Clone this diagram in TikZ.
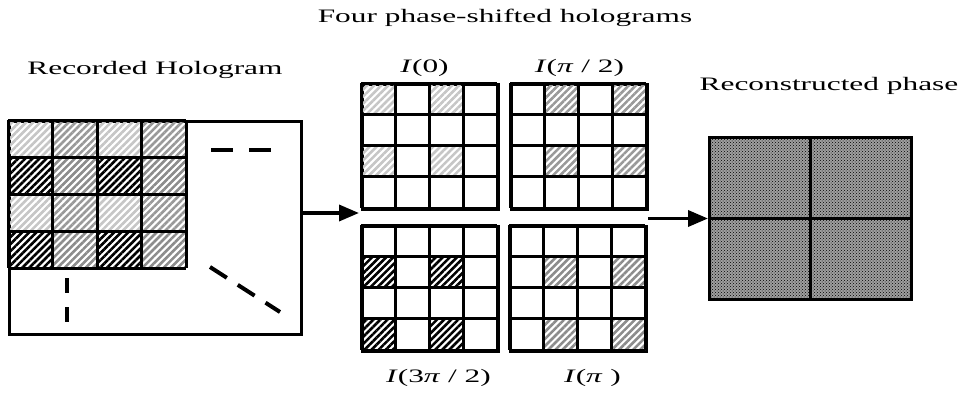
\documentclass[tikz,border=0pt]{standalone}
\usepackage{fontspec}
\setmainfont{Liberation Serif}[FakeStretch=1.65]
\usetikzlibrary{arrows.meta, positioning, patterns, patterns.meta}

\tikzset{
  holo/.style={draw, line width=3pt, inner sep=0pt, anchor=north west},
  cellline/.style={line width=3pt},
  hatch/.style={pattern={Lines[angle=45, distance=5pt, line width=2.6pt]},
                pattern color=#1},
  dashmark/.style={line width=4pt, dash pattern=#1},
  bigarrow/.style={line width=3.5pt, -{Triangle[length=20pt, width=16pt]}},
  lbl/.style={font=\fontsize{19}{21}\selectfont, inner sep=0pt},
}

% hatched cells of one phase: x0, y0, cell w, cell h, row offset, col offset, colour
\newcommand{\phasecells}[7]{%
  \foreach \r in {0,2} \foreach \c in {0,2}
    \fill[hatch=#7] ({#1+(\c+#6)*#3},{#2+(\r+#5)*#4}) rectangle ++(#3,#4);}
% 4x4 cell lines: x0, y0, cell w, cell h
\newcommand{\gridlines}[4]{%
  \foreach \k in {0,...,4} {
    \draw[cellline] ({#1+\k*#3},#2) -- ++(0,{4*#4});
    \draw[cellline] (#1,{#2+\k*#4}) -- ++({4*#3},0);
  }}

\begin{document}
\begin{tikzpicture}[x=1pt, y=-1pt]
\useasboundingbox (0,0) rectangle (966,396);

% Titles
\node[lbl] (title) at (505,18) {Four phase-shifted holograms};
\node[lbl] (rectitle) at (155,70) {Recorded Hologram};
\node[lbl] (recontitle) at (829,86) {Reconstructed phase};

% Recorded hologram
\node[holo, minimum width=292pt, minimum height=213pt] (recorded) at (8,120) {};
\phasecells{8}{120}{44.5}{37}{0}{0}{gray!45}
\phasecells{8}{120}{44.5}{37}{0}{1}{gray!80}
\phasecells{8}{120}{44.5}{37}{1}{0}{black}
\phasecells{8}{120}{44.5}{37}{1}{1}{gray!90}
\gridlines{8}{120}{44.5}{37}
\draw[dashmark={on 22pt off 16pt}] (211,150) -- (271,150);
\draw[dashmark={on 15pt off 14pt}] (67,278) -- (67,323);
\draw[dashmark={on 20pt off 13pt}] (210,267) -- (280,312);

% Four phase-shifted holograms
\node[holo, minimum width=136pt, minimum height=125pt] (izero) at (361,83) {};
\phasecells{361}{83}{34}{31.25}{0}{0}{gray!45}
\gridlines{361}{83}{34}{31.25}
\node[lbl, above=6pt of izero, xshift=-6pt] {\textit{I}(0)};

\node[holo, minimum width=136pt, minimum height=125pt] (ihalf) at (510,83) {};
\phasecells{510}{83}{34}{31.25}{0}{1}{gray!80}
\gridlines{510}{83}{34}{31.25}
\node[lbl, above=6pt of ihalf] {\textit{I}(\textit{π} / 2)};

\node[holo, minimum width=136pt, minimum height=125pt] (ithree) at (361,225) {};
\phasecells{361}{225}{34}{31.25}{1}{0}{black}
\gridlines{361}{225}{34}{31.25}
\node[lbl, below=16pt of ithree, xshift=8pt] {\textit{I}(3\textit{π} / 2)};

\node[holo, minimum width=136pt, minimum height=125pt] (ipi) at (509,225) {};
\phasecells{509}{225}{34}{31.25}{1}{1}{gray!90}
\gridlines{509}{225}{34}{31.25}
\node[lbl, below=16pt of ipi, xshift=14pt] {\textit{I}(\textit{π} )};

% Reconstructed phase
\node[holo, minimum width=202pt, minimum height=162pt,
      preaction={fill=gray!75}, pattern=crosshatch dots, pattern color=black]
      (recon) at (708,136) {};
\draw[line width=3pt] (recon.north) -- (recon.south);
\draw[line width=3pt] (recon.west) -- (recon.east);

% Arrows
\coordinate (fourin) at (359,213);
\draw[bigarrow] (recorded.east |- fourin) -- (fourin);
\draw[bigarrow] (recon.west -| ipi.east) -- (recon.west);

\end{tikzpicture}
\end{document}
